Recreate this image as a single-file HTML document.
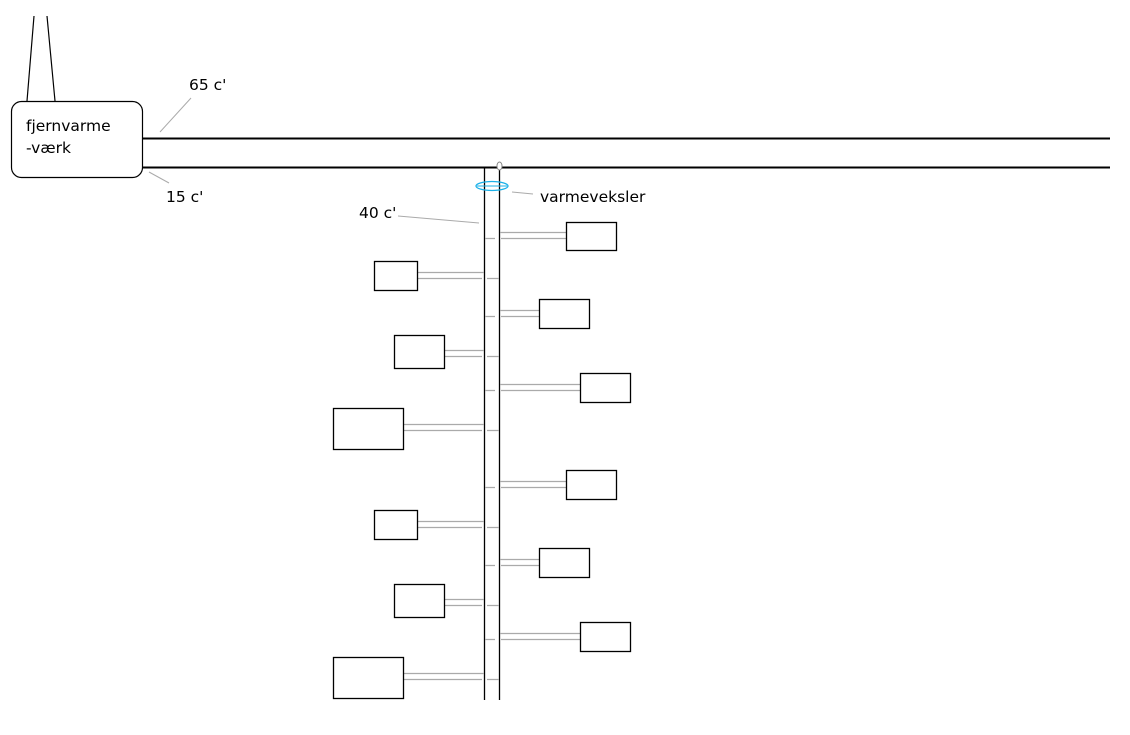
<!DOCTYPE html>
<html><head><meta charset="utf-8"><style>
html,body{margin:0;padding:0;background:#fff;}
svg{display:block;}
text{font-family:"DejaVu Sans","Liberation Sans",sans-serif;font-size:15.5px;fill:#000;}
</style></head><body>
<svg width="1130" height="735" viewBox="0 0 1130 735" xmlns="http://www.w3.org/2000/svg">
<line x1="34" y1="16" x2="27" y2="101" stroke="#000" stroke-width="1.2"/>
<line x1="47" y1="16" x2="55" y2="101" stroke="#000" stroke-width="1.2"/>
<rect x="11.5" y="101.5" width="131" height="76" rx="10" fill="#fff" stroke="#000" stroke-width="1.2"/>
<text x="26" y="131">fjernvarme</text>
<text x="26" y="153">-værk</text>
<line x1="143" y1="138.5" x2="1110" y2="138.5" stroke="#000" stroke-width="2"/>
<line x1="143" y1="167.5" x2="1110" y2="167.5" stroke="#000" stroke-width="2"/>
<line x1="160" y1="132" x2="191" y2="98" stroke="#aaa"/>
<text x="189" y="90">65 c'</text>
<line x1="149" y1="172" x2="169" y2="183" stroke="#aaa"/>
<text x="166" y="202">15 c'</text>
<line x1="484.5" y1="167" x2="484.5" y2="700" stroke="#000" stroke-width="1.3"/>
<line x1="499.5" y1="167" x2="499.5" y2="700" stroke="#000" stroke-width="1.3"/>
<ellipse cx="499.5" cy="166" rx="2.5" ry="4" fill="#fff" stroke="#888"/>
<ellipse cx="492" cy="186" rx="16" ry="4.5" fill="none" stroke="#1ab0e8" stroke-width="1.3"/>
<line x1="477" y1="186" x2="507" y2="186" stroke="#1ab0e8"/>
<line x1="512" y1="192" x2="533" y2="194" stroke="#aaa"/>
<text x="540" y="202">varmeveksler</text>
<line x1="398" y1="216" x2="479" y2="223" stroke="#aaa"/>
<text x="359" y="218">40 c'</text>
<g stroke="#aaa" stroke-width="1.3" fill="none">
<path d="M500 232.5H566 M485 238.5H495 M501 238.5H566"/>
<path d="M500 310.5H539 M485 316.5H495 M501 316.5H539"/>
<path d="M500 384.5H580 M485 390.5H495 M501 390.5H580"/>
<path d="M500 481.5H566 M485 487.5H495 M501 487.5H566"/>
<path d="M500 559.5H539 M485 565.5H495 M501 565.5H539"/>
<path d="M500 633.5H580 M485 639.5H495 M501 639.5H580"/>
<path d="M417 272.5H484 M417 278.5H482 M487 278.5H499"/>
<path d="M444 350.5H484 M444 356.5H482 M487 356.5H499"/>
<path d="M403 424.5H484 M403 430.5H482 M487 430.5H499"/>
<path d="M417 521.5H484 M417 527.5H482 M487 527.5H499"/>
<path d="M444 599.5H484 M444 605.5H482 M487 605.5H499"/>
<path d="M403 673.5H484 M403 679.5H482 M487 679.5H499"/>
</g>
<g fill="#fff" stroke="#000" stroke-width="1.3">
<rect x="566.5" y="222.5" width="50" height="28"/>
<rect x="539.5" y="299.5" width="50" height="29"/>
<rect x="580.5" y="373.5" width="50" height="29"/>
<rect x="566.5" y="470.5" width="50" height="29"/>
<rect x="539.5" y="548.5" width="50" height="29"/>
<rect x="580.5" y="622.5" width="50" height="29"/>
<rect x="374.5" y="261.5" width="43" height="29"/>
<rect x="394.5" y="335.5" width="50" height="33"/>
<rect x="333.5" y="408.5" width="70" height="41"/>
<rect x="374.5" y="510.5" width="43" height="29"/>
<rect x="394.5" y="584.5" width="50" height="33"/>
<rect x="333.5" y="657.5" width="70" height="41"/>
</g>
</svg>
</body></html>
